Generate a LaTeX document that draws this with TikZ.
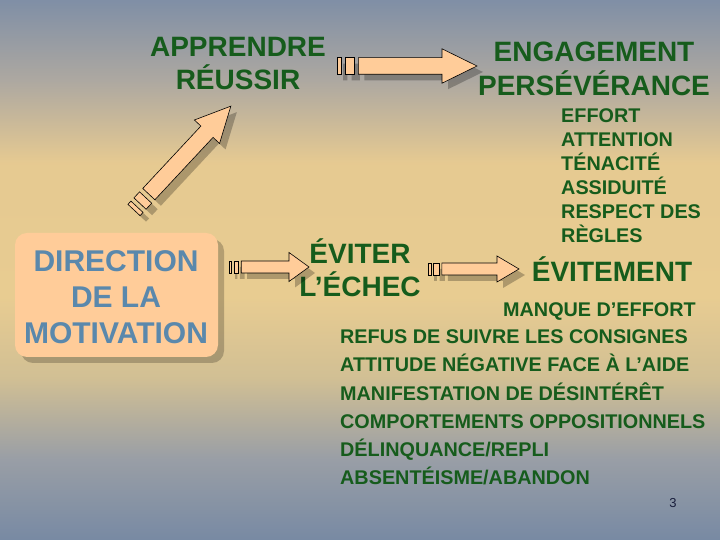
\documentclass[tikz,border=0pt]{standalone}
\usepackage{fontspec}
\setmainfont{Liberation Sans}
\usetikzlibrary{positioning}

\definecolor{txtgreen}{RGB}{22,92,28}
\definecolor{boxblue}{RGB}{90,136,172}
\definecolor{peach}{RGB}{255,204,153}
\definecolor{pagenum}{RGB}{25,30,60}
\pgfdeclareverticalshading{slidebg}{100bp}{rgb(0bp)=(0.47,0.54,0.64); rgb(25bp)=(0.47,0.54,0.64); rgb(32.5bp)=(0.60,0.62,0.65); rgb(40bp)=(0.82,0.75,0.58); rgb(47.5bp)=(0.91,0.80,0.57); rgb(60bp)=(0.90,0.79,0.57); rgb(67.5bp)=(0.68,0.66,0.63); rgb(75bp)=(0.50,0.56,0.65); rgb(100bp)=(0.50,0.56,0.65)}

\tikzset{
  greentitle/.style={text=txtgreen, font=\fontsize{28}{33}\selectfont\bfseries, align=center, anchor=base, inner sep=0pt},
  greenlist/.style={text=txtgreen, font=\fontsize{19.8}{24}\selectfont\bfseries, align=left, anchor=base west, inner sep=0pt},
  motivbox/.style={fill=peach, rounded corners=12pt},
  boxshadow/.style={fill=black, opacity=0.22, rounded corners=12pt},
  arrowbody/.style={fill=peach, draw=black, line width=0.6pt, line join=miter},
  arrowshadow/.style={fill=black, opacity=0.25}
}

% pos, angle, length, body half, head half, head length
\newcommand{\stripearrow}[6]{
  \begin{scope}[shift={#1}, shift={(6,-6)}, rotate=#2]
    \fill[arrowshadow] (0,-#4) rectangle ({0.031*#3},#4) ({0.062*#3},-#4) rectangle ({0.12*#3},#4)
      ({0.153*#3},-#4) -- ({#3-#6},-#4) -- ({#3-#6},-#5) -- (#3,0) -- ({#3-#6},#5) -- ({#3-#6},#4) -- ({0.153*#3},#4) -- cycle;
  \end{scope}
  \begin{scope}[shift={#1}, rotate=#2]
    \draw[arrowbody] (0,-#4) rectangle ({0.031*#3},#4);
    \draw[arrowbody] ({0.062*#3},-#4) rectangle ({0.12*#3},#4);
    \draw[arrowbody] ({0.153*#3},-#4) -- ({#3-#6},-#4) -- ({#3-#6},-#5) -- (#3,0) -- ({#3-#6},#5) -- ({#3-#6},#4) -- ({0.153*#3},#4) -- cycle;
  \end{scope}
}

\begin{document}
\begin{tikzpicture}[x=1pt, y=1pt]

\shade[shading=slidebg] (0,0) rectangle (720,540);
\useasboundingbox (0,0) rectangle (720,540);

\fill[boxshadow] (21,177) rectangle (224,301);
\fill[motivbox] (15,183) rectangle (218,307);
\node[greentitle, text=boxblue, font=\fontsize{30}{36}\selectfont\bfseries] (motivation) at (116,196) {DIRECTION\\DE LA\\MOTIVATION};

\node[greentitle] (apprendre) at (238,450) {APPRENDRE\\RÉUSSIR};
\node[greentitle, font=\fontsize{28}{34}\selectfont\bfseries] (engagement) at (594,444) {ENGAGEMENT\\PERSÉVÉRANCE};
\node[greentitle] (eviter) at (360,243) {ÉVITER\\L’ÉCHEC};
\node[greentitle] (evitement) at (612,258) {ÉVITEMENT};

\node[greenlist] (qualites) at (561,297) {EFFORT\\ATTENTION\\TÉNACITÉ\\ASSIDUITÉ\\RESPECT DES\\RÈGLES};
\node[greenlist] (manque) at (503,223) {MANQUE D’EFFORT};
\node[greenlist, font=\fontsize{19.8}{28.3}\selectfont\bfseries] (refus) at (340,55) {REFUS DE SUIVRE LES CONSIGNES\\ATTITUDE NÉGATIVE FACE À L’AIDE\\MANIFESTATION DE DÉSINTÉRÊT\\COMPORTEMENTS OPPOSITIONNELS\\DÉLINQUANCE/REPLI\\ABSENTÉISME/ABANDON};

\stripearrow{(134,330)}{47}{142}{8.3}{17.2}{35}
\stripearrow{(337,474)}{0}{140}{8.3}{17.2}{35}
\stripearrow{(229,273)}{0}{80}{6}{14.5}{20}
\stripearrow{(428,271)}{0}{91}{6}{13}{22}

\node[text=pagenum, font=\fontsize{13}{15}\selectfont, inner sep=0pt] (pagenum) at (673,37) {3};

\end{tikzpicture}
\end{document}
